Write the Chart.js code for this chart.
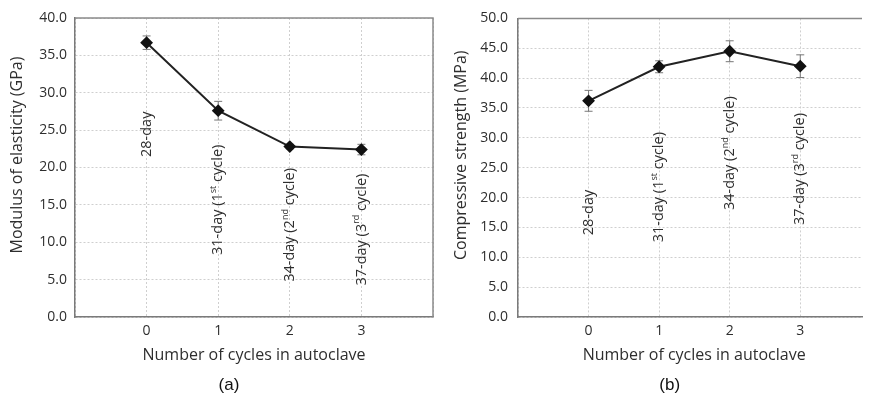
<!DOCTYPE html>
<html>
<head>
<meta charset="utf-8">
<script src="https://cdn.jsdelivr.net/npm/chart.js@4"></script>
<style>
  html, body { margin: 0; padding: 0; background: #fff; overflow: hidden; }
  #wrap { position: relative; width: 869px; height: 398px; overflow: hidden; }
  canvas { position: absolute; top: 0; }
  #chartA { left: 0; }
  #chartB { left: 440px; }
</style>
</head>
<body>
<div id="wrap">
  <canvas id="chartA" width="440" height="398"></canvas>
  <canvas id="chartB" width="429" height="398"></canvas>
</div>
<script>
// data
const cycles = [0, 1, 2, 3];
const cycleLabels = ['0', '1', '2', '3'];
const stageLabels = ['28-day', '31-day (1^st cycle)', '34-day (2^nd cycle)', '37-day (3^rd cycle)'];

const modulus = [36.7, 27.6, 22.8, 22.4];
const modulusErr = [0.9, 1.25, 0.3, 0.7];
const modulusTicks = [0, 5, 10, 15, 20, 25, 30, 35, 40];
const modulusLabelY = [21.4, 8.3, 4.7, 4.2];

const strength = [36.2, 41.9, 44.5, 42.0];
const strengthErr = [1.75, 1.0, 1.75, 1.9];
const strengthTicks = [0, 5, 10, 15, 20, 25, 30, 35, 40, 45, 50];
const strengthLabelY = [13.7, 12.5, 17.9, 15.4];

const FONT = "'Open Sans', sans-serif";
const TEXT = '#2e2e2e';

// error bars, drawn under the markers
const errorBars = {
    id: 'errorBars',
    beforeDatasetsDraw(chart, args, opts) {
        const {ctx, scales: {x, y}} = chart;
        ctx.save();
        ctx.strokeStyle = '#777';
        ctx.lineWidth = 1;
        opts.values.forEach((v, i) => {
            const px = x.getPixelForValue(opts.xs[i]);
            const top = y.getPixelForValue(v + opts.errs[i]);
            const bot = y.getPixelForValue(v - opts.errs[i]);
            ctx.beginPath();
            ctx.moveTo(px, top); ctx.lineTo(px, bot);
            ctx.moveTo(px - 4, top); ctx.lineTo(px + 4, top);
            ctx.moveTo(px - 4, bot); ctx.lineTo(px + 4, bot);
            ctx.stroke();
        });
        ctx.restore();
    }
};

// vertical stage labels with superscripts, frame and caption
const extras = {
    id: 'extras',
    afterDraw(chart, args, opts) {
        const {ctx, chartArea: a, scales: {x, y}} = chart;
        ctx.save();
        // top frame, right side only where the panel is not cut off
        ctx.strokeStyle = '#8a8a8a';
        ctx.lineWidth = 1.5;
        ctx.beginPath();
        ctx.moveTo(a.left, a.top); ctx.lineTo(a.right, a.top);
        if (opts.rightEdge) ctx.lineTo(a.right, a.bottom);
        ctx.stroke();

        ctx.fillStyle = TEXT;
        opts.labels.forEach((lab, i) => {
            const px = x.getPixelForValue(opts.xs[i]);
            const py = y.getPixelForValue(opts.anchors[i]);
            ctx.save();
            ctx.translate(px, py);
            ctx.rotate(-Math.PI / 2);
            ctx.textBaseline = 'middle';
            ctx.textAlign = 'left';
            let cx = 0;
            lab.split(/\^(\w+)/).forEach((part, k) => {
                const sup = k % 2 === 1;
                ctx.font = (sup ? '9px ' : '14.5px ') + FONT;
                ctx.fillText(part, cx, sup ? -4.5 : 0);
                cx += ctx.measureText(part).width;
            });
            ctx.restore();
        });

        ctx.font = '17px "Liberation Sans", Arial, sans-serif';
        ctx.fillStyle = '#111';
        ctx.textAlign = 'center';
        ctx.textBaseline = 'middle';
        ctx.fillText(opts.caption, x.getPixelForValue(1.15), a.bottom + 68);
        ctx.restore();
    }
};

function makeChart(id, values, errs, ticks, yMax, xMax, yTitle, xTitle, anchors, caption, yWidth, yTitlePad, yTickPad, padRight) {
    const ctx = document.getElementById(id).getContext('2d');
    return new Chart(ctx, {
        type: 'line',
        data: {
            datasets: [{
                data: cycles.map((c, i) => ({x: c, y: values[i]})),
                borderColor: '#222',
                borderWidth: 2,
                pointStyle: 'rectRot',
                pointRadius: 5,
                pointBackgroundColor: '#111',
                pointBorderColor: '#111',
                tension: 0,
            }],
        },
        options: {
            responsive: false,
            animation: false,
            layout: { padding: { top: 18, right: padRight, left: 0, bottom: 0 } },
            plugins: {
                legend: { display: false },
                tooltip: { enabled: false },
                errorBars: { xs: cycles, values: values, errs: errs },
                extras: { xs: cycles, labels: stageLabels, anchors: anchors, caption: caption, rightEdge: xMax === 4 },
            },
            scales: {
                x: {
                    type: 'linear',
                    min: -1,
                    max: xMax,
                    afterBuildTicks: s => { s.ticks = [-1, 0, 1, 2, 3, 4].filter(v => v <= xMax).map(v => ({value: v})); },
                    afterFit: s => { s.height = 81; },
                    ticks: {
                        padding: 6,
                        color: TEXT,
                        font: { family: FONT, size: 14 },
                        callback: v => { const i = cycles.indexOf(v); return i >= 0 ? cycleLabels[i] : ''; },
                    },
                    grid: { color: '#cfcfcf', drawTicks: false },
                    border: { color: '#7a7a7a', width: 1.5, dash: [2, 2] },
                    title: {
                        display: true,
                        text: xTitle,
                        color: TEXT,
                        font: { family: FONT, size: 16 },
                        padding: { top: 0, bottom: 33.4 },
                    },
                },
                y: {
                    min: 0,
                    max: yMax,
                    afterBuildTicks: s => { s.ticks = ticks.map(v => ({value: v})); },
                    afterFit: s => { s.width = yWidth; },
                    ticks: {
                        padding: yTickPad,
                        color: TEXT,
                        font: { family: FONT, size: 14 },
                        callback: v => v.toFixed(1),
                    },
                    grid: { color: '#cfcfcf', drawTicks: false },
                    border: { color: '#7a7a7a', width: 1.5, dash: [2, 2] },
                    title: {
                        display: true,
                        // leading spaces nudge the centred title up like the original
                        text: '      ' + yTitle,
                        color: TEXT,
                        font: { family: FONT, size: 16 },
                        padding: { top: yTitlePad, bottom: 0 },
                    },
                },
            },
        },
        plugins: [errorBars, extras],
    });
}

makeChart('chartA', modulus, modulusErr, modulusTicks, 40, 4, 'Modulus of elasticity (GPa)',
    'Number of cycles in autoclave', modulusLabelY, '(a)', 75, 7.4, 8, 7);
// panel (b) is cut off by the right edge of the figure
makeChart('chartB', strength, strengthErr, strengthTicks, 50, 3.875, 'Compressive strength (MPa)',
    '  Number of cycles in autoclave', strengthLabelY, '(b)', 78, 12, 10, 0);
</script>
</body>
</html>
